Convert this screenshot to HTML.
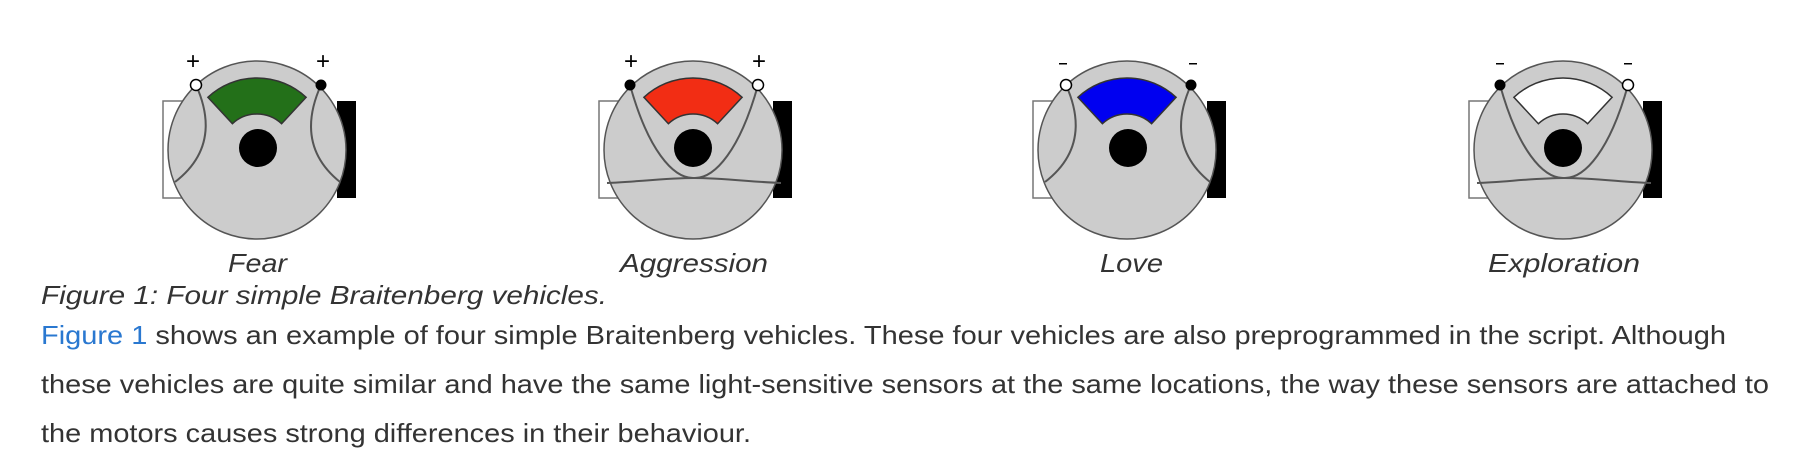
<!DOCTYPE html>
<html><head><meta charset="utf-8"><style>
html,body{margin:0;padding:0;background:#fff;width:1796px;height:466px;overflow:hidden}
svg{display:block}
text{font-family:"Liberation Sans",Arial,sans-serif;fill:#333}
</style></head><body>
<svg width="1796" height="466" viewBox="0 0 1796 466" xmlns="http://www.w3.org/2000/svg">
<defs>
<g id="base">
  <rect x="-94" y="-49" width="20" height="97" fill="#fff" stroke="#777" stroke-width="1.5"/>
  <rect x="80" y="-49" width="19" height="97" fill="#000"/>
  <circle cx="0" cy="0" r="89" fill="#cccccc" stroke="#555" stroke-width="1.5"/>
</g>
<path id="sector" d="M-49.1,-52.7 A72 72 0 0 1 49.1,-52.7 L24.6,-26.3 A36 36 0 0 0 -24.6,-26.3 Z" stroke="#333" stroke-width="1.5"/>
<g id="wiresStraight" fill="none" stroke="#555" stroke-width="2">
  <path d="M-61,-65 Q-34,-5 -82,32"/>
  <path d="M64,-65 Q37,-5 83,32"/>
</g>
<g id="wiresCross" fill="none" stroke="#555" stroke-width="2">
  <path d="M-63,-65 C-45,0 -20,28 0,28 C30,28 60,32 88,33"/>
  <path d="M65,-65 C47,0 22,28 2,28 C-28,28 -58,32 -86,33"/>
</g>
</defs>

<g transform="translate(257,150)">
  <use href="#base"/>
  <use href="#sector" fill="#237019"/>
  <circle cx="1" cy="-2" r="19" fill="#000"/>
  <use href="#wiresStraight"/>
  <circle cx="-61" cy="-65" r="5.5" fill="#fff" stroke="#000" stroke-width="1.5"/>
  <circle cx="64" cy="-65" r="5.5" fill="#000"/>
  <text x="-64" y="-81" font-size="24" text-anchor="middle" style="fill:#000">+</text>
  <text x="66" y="-81" font-size="24" text-anchor="middle" style="fill:#000">+</text>
</g>
<g transform="translate(693,150)">
  <use href="#base"/>
  <use href="#sector" fill="#f22d14"/>
  <circle cx="0" cy="-2" r="19" fill="#000"/>
  <use href="#wiresCross"/>
  <circle cx="-63" cy="-65" r="5.5" fill="#000"/>
  <circle cx="65" cy="-65" r="5.5" fill="#fff" stroke="#000" stroke-width="1.5"/>
  <text x="-62" y="-81" font-size="24" text-anchor="middle" style="fill:#000">+</text>
  <text x="66" y="-81" font-size="24" text-anchor="middle" style="fill:#000">+</text>
</g>
<g transform="translate(1127,150)">
  <use href="#base"/>
  <use href="#sector" fill="#0000f0"/>
  <circle cx="1" cy="-2" r="19" fill="#000"/>
  <use href="#wiresStraight"/>
  <circle cx="-61" cy="-65" r="5.5" fill="#fff" stroke="#000" stroke-width="1.5"/>
  <circle cx="64" cy="-65" r="5.5" fill="#000"/>
  <rect x="-68" y="-87" width="8" height="1.5" fill="#000"/>
  <rect x="62" y="-87" width="8" height="1.5" fill="#000"/>
</g>
<g transform="translate(1563,150)">
  <use href="#base"/>
  <use href="#sector" fill="#fff"/>
  <circle cx="0" cy="-2" r="19" fill="#000"/>
  <use href="#wiresCross"/>
  <circle cx="-63" cy="-65" r="5.5" fill="#000"/>
  <circle cx="65" cy="-65" r="5.5" fill="#fff" stroke="#000" stroke-width="1.5"/>
  <rect x="-67" y="-87" width="8" height="1.5" fill="#000"/>
  <rect x="61" y="-87" width="8" height="1.5" fill="#000"/>
</g>

<g font-size="26" font-style="italic" lengthAdjust="spacingAndGlyphs">
  <text x="228" y="272" textLength="59" lengthAdjust="spacingAndGlyphs">Fear</text>
  <text x="620" y="272" textLength="148" lengthAdjust="spacingAndGlyphs">Aggression</text>
  <text x="1100" y="272" textLength="63" lengthAdjust="spacingAndGlyphs">Love</text>
  <text x="1488" y="272" textLength="152" lengthAdjust="spacingAndGlyphs">Exploration</text>
</g>
<text x="41" y="304" font-size="26" font-style="italic" textLength="566" lengthAdjust="spacingAndGlyphs">Figure 1: Four simple Braitenberg vehicles.</text>
<g font-size="26">
  <text x="41" y="344" textLength="1685" lengthAdjust="spacingAndGlyphs"><tspan style="fill:#2a78d0">Figure 1</tspan> shows an example of four simple Braitenberg vehicles. These four vehicles are also preprogrammed in the script. Although</text>
  <text x="41" y="393" textLength="1728" lengthAdjust="spacingAndGlyphs">these vehicles are quite similar and have the same light-sensitive sensors at the same locations, the way these sensors are attached to</text>
  <text x="41" y="442" textLength="710" lengthAdjust="spacingAndGlyphs">the motors causes strong differences in their behaviour.</text>
</g>
</svg>
</body></html>
